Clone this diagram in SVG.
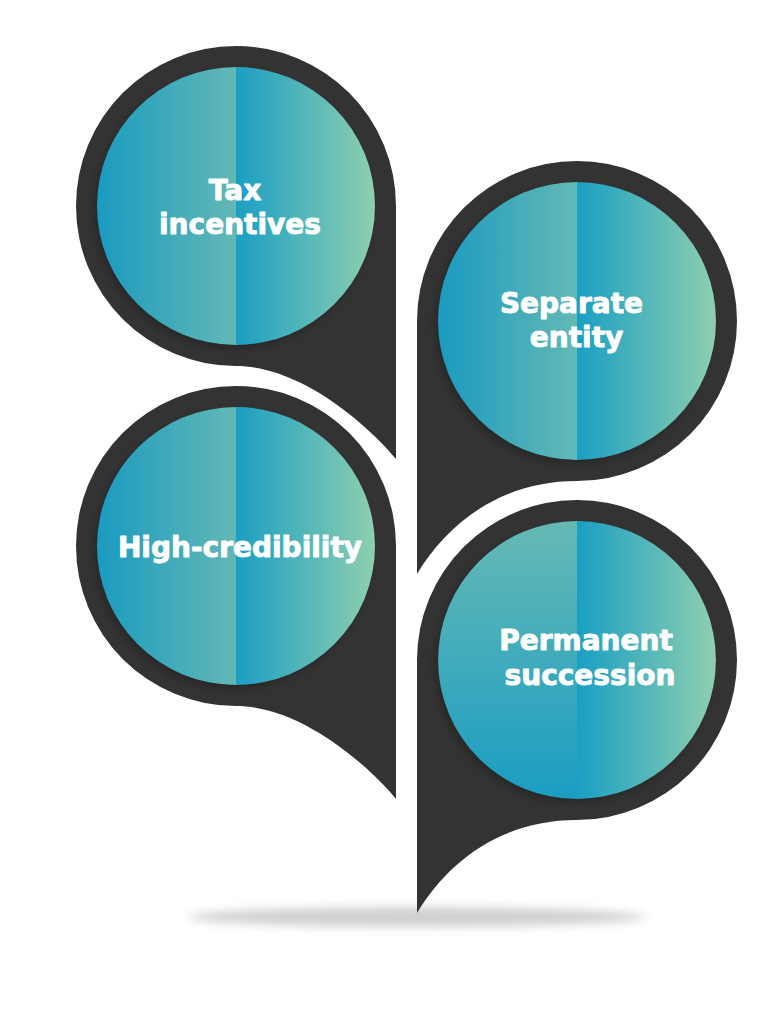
<svg xmlns="http://www.w3.org/2000/svg" width="784" height="1024" viewBox="0 0 784 1024">
<style>
.drop{fill:#333333}
.lbl{font-family:"DejaVu Sans","Liberation Sans",sans-serif;font-weight:bold;font-size:28px;fill:#ffffff;stroke:#ffffff;stroke-width:0.9px;stroke-linejoin:round;text-anchor:middle}
.inshadow{fill:#000000;opacity:0.18;filter:url(#blur3)}
</style>
<defs>
<linearGradient id="gL" x1="0" y1="0" x2="1" y2="0">
<stop offset="0" stop-color="#1a9bc1"/>
<stop offset="1" stop-color="#63b8b5"/>
</linearGradient>
<linearGradient id="gR" x1="0" y1="0" x2="1" y2="0">
<stop offset="0" stop-color="#1a9fc3"/>
<stop offset="1" stop-color="#8ecfb0"/>
</linearGradient>
<linearGradient id="gV" x1="0" y1="0" x2="0" y2="1">
<stop offset="0" stop-color="#66b9b4"/>
<stop offset="1" stop-color="#1a9dc3"/>
</linearGradient>
<filter id="blur3" x="-20%" y="-20%" width="140%" height="140%"><feGaussianBlur stdDeviation="3"/></filter>
<filter id="blur5" x="-10%" y="-200%" width="120%" height="500%"><feGaussianBlur stdDeviation="5"/></filter>
</defs>
<rect width="784" height="1024" fill="#ffffff"/>
<ellipse cx="417" cy="917" rx="228" ry="10" fill="#d0d0d0" filter="url(#blur5)"/>

<g id="node-tax">
<path class="drop" d="M396,206 L396,459 C376,434 306,366 236,366 A160,160 0 1 1 396,206 Z"/>
<circle class="inshadow" cx="233" cy="210" r="140"/>
<path d="M236,67 A139,139 0 0 0 236,345 Z" fill="url(#gL)"/>
<path d="M236,67 A139,139 0 0 1 236,345 Z" fill="url(#gR)"/>
<text class="lbl" x="235" y="200">Tax</text>
<text class="lbl" x="240" y="234">incentives</text>
</g>

<g id="node-separate">
<path class="drop" d="M417,321 L417,574 C447,524 500,481 577,481 A160,160 0 1 0 417,321 Z"/>
<circle class="inshadow" cx="574" cy="325" r="140"/>
<path d="M577,182 A139,139 0 0 0 577,460 Z" fill="url(#gL)"/>
<path d="M577,182 A139,139 0 0 1 577,460 Z" fill="url(#gR)"/>
<text class="lbl" x="571.5" y="313">Separate</text>
<text class="lbl" x="576.5" y="347">entity</text>
</g>

<g id="node-credibility">
<path class="drop" d="M396,546 L396,799 C376,774 306,706 236,706 A160,160 0 1 1 396,546 Z"/>
<circle class="inshadow" cx="233" cy="550" r="140"/>
<path d="M236,407 A139,139 0 0 0 236,685 Z" fill="url(#gL)"/>
<path d="M236,407 A139,139 0 0 1 236,685 Z" fill="url(#gR)"/>
<text class="lbl" x="240" y="557">High-credibility</text>
</g>

<g id="node-succession">
<path class="drop" d="M417,660 L417,913 C447,863 500,820 577,820 A160,160 0 1 0 417,660 Z"/>
<circle class="inshadow" cx="574" cy="664" r="140"/>
<path d="M577,521 A139,139 0 0 0 577,799 Z" fill="url(#gV)"/>
<path d="M577,521 A139,139 0 0 1 577,799 Z" fill="url(#gR)"/>
<text class="lbl" x="586" y="650">Permanent</text>
<text class="lbl" x="590" y="685">succession</text>
</g>
</svg>
